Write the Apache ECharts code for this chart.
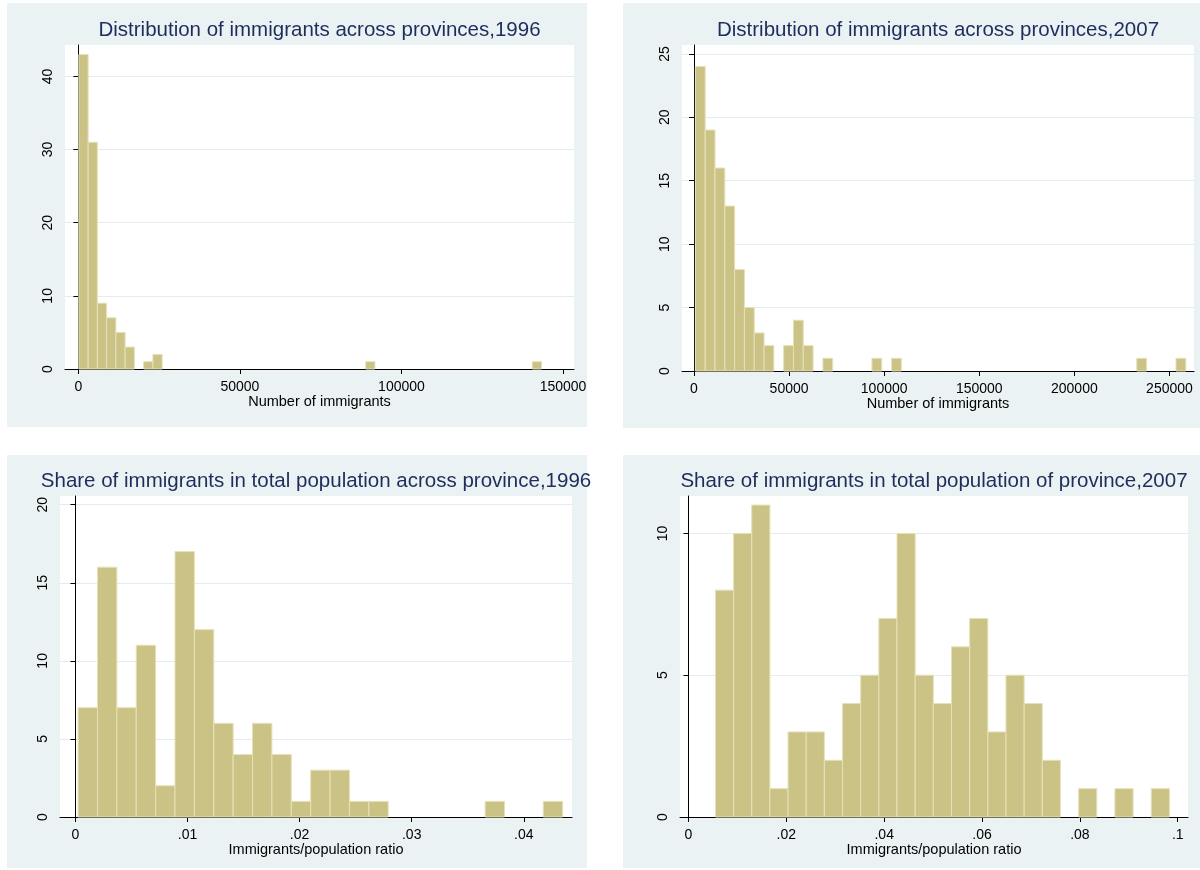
<!DOCTYPE html>
<html>
<head>
<meta charset="utf-8">
<title>Immigrants across provinces</title>
<script src="https://cdn.jsdelivr.net/npm/echarts@6/dist/echarts.min.js"></script>
<style>
  html, body { margin: 0; padding: 0; background: #ffffff; }
  #chart { width: 1200px; height: 870px; }
</style>
</head>
<body>
<div id="chart"></div>
<script>
// Histogram bins: each panel has a first bin edge, a bin width and a count per bin.

// Number of immigrants, 1996 (50 bins)
const immig1996Start = 150;
const immig1996Width = 2864;
const immig1996Counts = [
  43, 31, 9, 7, 5, 3, 0, 1, 2, 0,
  0, 0, 0, 0, 0, 0, 0, 0, 0, 0,
  0, 0, 0, 0, 0, 0, 0, 0, 0, 0,
  0, 1, 0, 0, 0, 0, 0, 0, 0, 0,
  0, 0, 0, 0, 0, 0, 0, 0, 0, 1
];

// Number of immigrants, 2007 (50 bins)
const immig2007Start = 740;
const immig2007Width = 5157;
const immig2007Counts = [
  24, 19, 16, 13, 8, 5, 3, 2, 0, 2,
  4, 2, 0, 1, 0, 0, 0, 0, 1, 0,
  1, 0, 0, 0, 0, 0, 0, 0, 0, 0,
  0, 0, 0, 0, 0, 0, 0, 0, 0, 0,
  0, 0, 0, 0, 0, 1, 0, 0, 0, 1
];

// Immigrants / population ratio, 1996 (25 bins)
const share1996Start = 0.00024;
const share1996Width = 0.001729;
const share1996Counts = [
  7, 16, 7, 11, 2, 17, 12, 6, 4, 6,
  4, 1, 3, 3, 1, 1, 0, 0, 0, 0,
  0, 1, 0, 0, 1
];

// Immigrants / population ratio, 2007 (25 bins)
const share2007Start = 0.0055;
const share2007Width = 0.003712;
const share2007Counts = [
  8, 10, 11, 1, 3, 3, 2, 4, 5, 7,
  10, 5, 4, 6, 7, 3, 5, 4, 2, 0,
  1, 0, 1, 0, 1
];

// Axis tick values
const immig1996Ticks = [0, 50000, 100000, 150000];
const immig2007Ticks = [0, 50000, 100000, 150000, 200000, 250000];
const share1996Ticks = [0, 0.01, 0.02, 0.03, 0.04];
const share2007Ticks = [0, 0.02, 0.04, 0.06, 0.08, 0.1];
const freq1996Ticks = [0, 10, 20, 30, 40];
const freq2007Ticks = [0, 5, 10, 15, 20, 25];
const freqShare1996Ticks = [0, 5, 10, 15, 20];
const freqShare2007Ticks = [0, 5, 10];

const titles = [
  'Distribution of immigrants across provinces,1996',
  'Distribution of immigrants across provinces,2007',
  'Share of immigrants in total population across province,1996',
  'Share of immigrants in total population of province,2007'
];
const xNames = [
  'Number of immigrants',
  'Number of immigrants',
  'Immigrants/population ratio',
  'Immigrants/population ratio'
];

// ---- styling ----
const FONT = '"Liberation Sans", Arial, Helvetica, sans-serif';
const BAR_FILL = '#cbc386';
const BAR_EDGE = '#e6e1b8';
const REGION_BG = '#eaf2f3';
const GRID_LINE = '#e3edef';
const TITLE_COLOR = '#1e2d5c';

// panel layout: plot-area rectangles and background regions (pixels)
const plots = [
  { left: 65,  top: 45,  width: 509, height: 324 },
  { left: 682, top: 45,  width: 512, height: 326 },
  { left: 60,  top: 496, width: 512, height: 321 },
  { left: 680, top: 496, width: 508, height: 321 }
];
const regions = [
  { x: 7,   y: 3,   w: 580, h: 424 },
  { x: 623, y: 3,   w: 577, h: 425 },
  { x: 7,   y: 455, w: 580, h: 413 },
  { x: 623, y: 455, w: 577, h: 413 }
];

function toBins(start, width, counts) {
  const out = [];
  counts.forEach((c, i) => {
    if (c > 0) out.push([start + i * width, start + (i + 1) * width, c]);
  });
  return out;
}

const binData = [
  toBins(immig1996Start, immig1996Width, immig1996Counts),
  toBins(immig2007Start, immig2007Width, immig2007Counts),
  toBins(share1996Start, share1996Width, share1996Counts),
  toBins(share2007Start, share2007Width, share2007Counts)
];

function renderBin(params, api) {
  const lo = api.coord([api.value(0), 0]);
  const hi = api.coord([api.value(1), api.value(2)]);
  return {
    type: 'rect',
    shape: { x: lo[0], y: hi[1], width: hi[0] - lo[0], height: lo[1] - hi[1] },
    style: { fill: BAR_FILL, stroke: BAR_EDGE, lineWidth: 1 }
  };
}

function ratioLabel(v) {
  if (v === 0) return '0';
  return String(+v.toFixed(4)).replace(/^0\./, '.');
}

const xRanges = [
  { min: -4140, max: 153400, ticks: immig1996Ticks, fmt: v => String(v) },
  { min: -6300, max: 262900, ticks: immig2007Ticks, fmt: v => String(v) },
  { min: -0.001375, max: 0.0443, ticks: share1996Ticks, fmt: ratioLabel },
  { min: -0.00174, max: 0.1021, ticks: share2007Ticks, fmt: ratioLabel }
];
const yRanges = [
  { max: 44.3, interval: 10, ticks: freq1996Ticks },
  { max: 25.7, interval: 5, ticks: freq2007Ticks },
  { max: 20.56, interval: 5, ticks: freqShare1996Ticks },
  { max: 11.32, interval: 5, ticks: freqShare2007Ticks }
];

const option = {
  backgroundColor: '#ffffff',
  animation: false,
  textStyle: { fontFamily: FONT },
  graphic: regions.map(r => ({
    type: 'rect', z: -10, silent: true,
    shape: { x: r.x, y: r.y, width: r.w, height: r.h },
    style: { fill: REGION_BG }
  })),
  title: plots.map((p, i) => ({
    text: titles[i],
    left: p.left + p.width / 2,
    top: i < 2 ? 20 : 471,
    textAlign: 'center',
    padding: 0,
    textStyle: { fontFamily: FONT, fontSize: 20.5, fontWeight: 'normal', color: TITLE_COLOR }
  })),
  grid: plots.map(p => ({
    left: p.left, top: p.top, width: p.width, height: p.height,
    show: true, backgroundColor: '#ffffff', borderWidth: 0,
    containLabel: false
  })),
  xAxis: xRanges.map((r, i) => ({
    type: 'value', gridIndex: i, min: r.min, max: r.max,
    name: xNames[i], nameLocation: 'middle', nameGap: 24,
    nameTextStyle: { fontFamily: FONT, fontSize: 14.5, color: '#000' },
    axisLine: { show: true, onZero: false, lineStyle: { color: '#000', width: 1 } },
    axisTick: { show: true, length: 5, customValues: r.ticks, lineStyle: { color: '#000' } },
    axisLabel: { customValues: r.ticks, formatter: r.fmt, margin: 11,
                 fontFamily: FONT, fontSize: 14, color: '#000' },
    splitLine: { show: false }
  })),
  yAxis: yRanges.map((r, i) => ({
    type: 'value', gridIndex: i, min: 0, max: r.max, interval: r.interval,
    axisLine: { show: true, lineStyle: { color: '#000', width: 1 } },
    axisTick: { show: true, length: 5, customValues: r.ticks, lineStyle: { color: '#000' } },
    axisLabel: { customValues: r.ticks, rotate: 90, margin: 10,
                 fontFamily: FONT, fontSize: 14, color: '#000' },
    splitLine: { show: true, lineStyle: { color: GRID_LINE, width: 1 } }
  })),
  series: binData.map((d, i) => ({
    type: 'custom', xAxisIndex: i, yAxisIndex: i,
    renderItem: renderBin,
    encode: { x: [0, 1], y: 2 },
    data: d
  }))
};

const chart = echarts.init(document.getElementById('chart'), null, { renderer: 'canvas' });
chart.setOption(option);
</script>
</body>
</html>
